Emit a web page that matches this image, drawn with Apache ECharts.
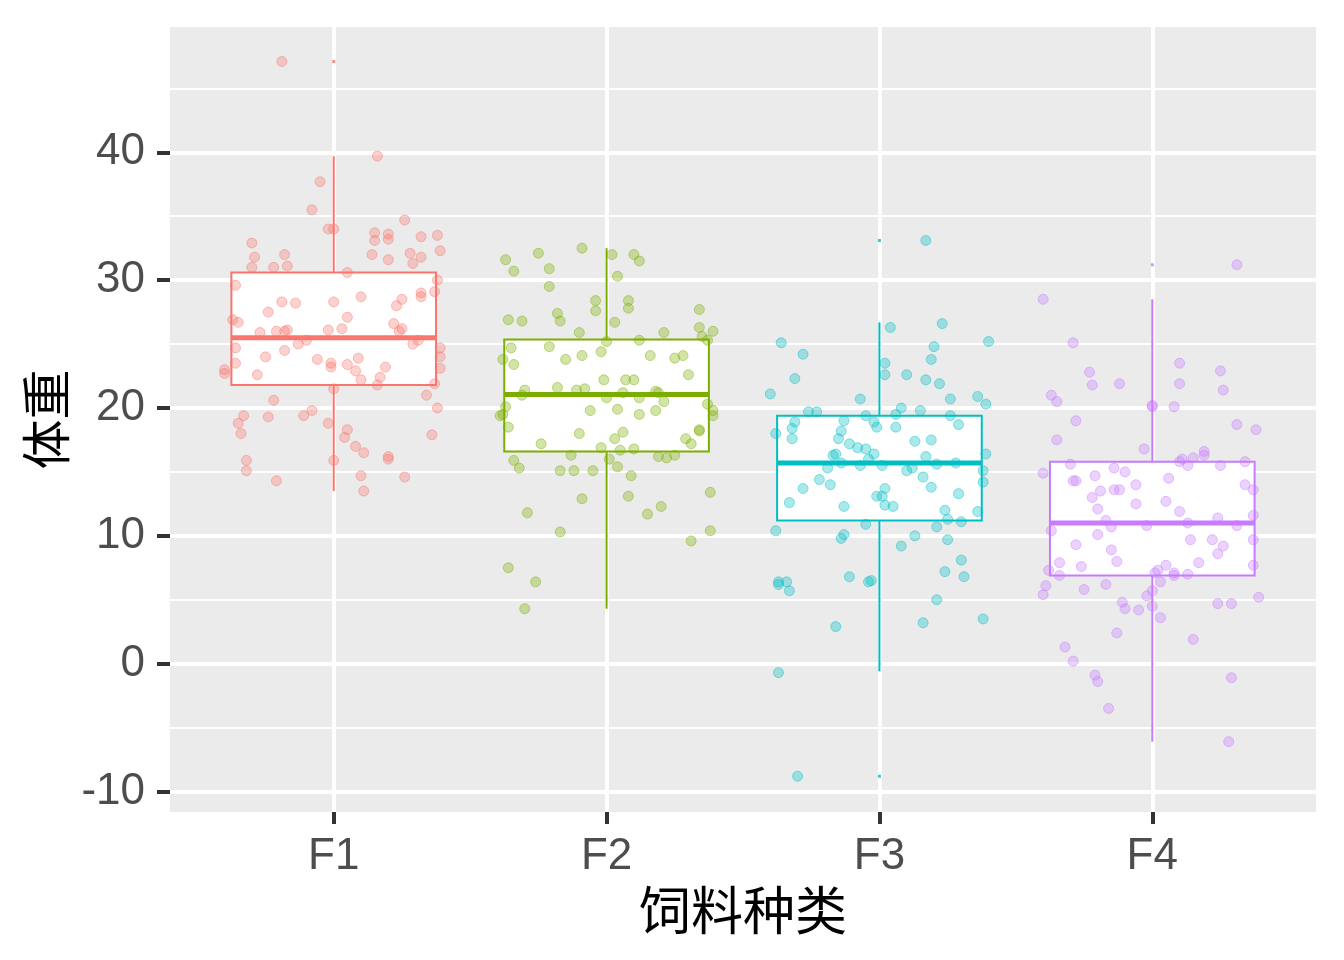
<!DOCTYPE html>
<html>
<head>
<meta charset="utf-8">
<script src="https://cdn.jsdelivr.net/npm/echarts@6/dist/echarts.min.js"></script>
<style>html,body{margin:0;padding:0;background:#fff}#c{width:1344px;height:960px}</style>
</head>
<body>
<div id="c"></div>
<script>
const categories = ['F1', 'F2', 'F3', 'F4'];
const colors = ['#F8766D', '#7CAE00', '#00BFC4', '#C77CFF'];
const yTicks = [-10, 0, 10, 20, 30, 40];
const yMinor = [-5, 5, 15, 25, 35, 45];
// [lower whisker, Q1, median, Q3, upper whisker]
const boxStats = [
  [13.5, 21.8, 25.5, 30.6, 39.7],
  [4.3, 16.6, 21.05, 25.35, 32.5],
  [-0.6, 11.2, 15.7, 19.4, 26.7],
  [-6.1, 6.9, 11.0, 15.8, 28.5]
];
// outliers: [group index (1-based), value]
const outliers = [[1, 47.1], [3, 33.1], [3, -8.8], [4, 31.2]];
// jittered points: [horizontal jitter, value]
const f1Points = [[-0.19,47.1],[0.16,39.7],[-0.05,37.7],[-0.08,35.5],[-0.02,34.0],[0.0,34.0],[0.26,34.7],[0.15,33.7],[0.2,33.6],[0.15,33.1],[0.2,33.2],[0.32,33.4],[0.38,33.5],[0.39,32.3],[0.28,32.1],[0.32,31.8],[0.29,31.3],[0.14,32.0],[0.2,31.6],[-0.3,32.9],[-0.29,31.8],[-0.18,32.0],[-0.3,31.0],[-0.22,31.0],[-0.17,31.1],[0.05,30.6],
[0.38,30.0],[-0.36,29.6],[0.37,29.1],[0.32,29.0],[0.32,28.7],[-0.19,28.3],[-0.14,28.2],[0.0,28.3],[0.1,28.7],[0.25,28.5],[0.23,28.0],[-0.24,27.5],[0.05,27.1],[-0.37,26.9],[-0.35,26.7],[0.22,26.6],[0.25,26.2],[0.24,26.0],[-0.27,25.9],[-0.21,26.0],[-0.17,26.1],[-0.18,26.0],[-0.02,26.1],[0.03,26.2],[-0.1,25.3],[-0.13,25.0],[0.29,25.0],[0.31,25.3],[-0.36,24.7],[0.39,24.7],[0.39,24.0],[-0.25,24.0],[-0.18,24.5],[-0.06,23.8],[0.09,23.9],[-0.01,23.5],[-0.01,23.2],[0.05,23.4],[-0.36,23.5],[-0.4,23.0],[-0.4,22.7],[0.39,23.1],[0.19,23.2],[0.08,22.9],[0.1,22.2],[0.17,22.4],[0.16,21.8],[-0.28,22.6],[0.37,21.9],[0.0,21.5],[0.34,21.0],[0.38,20.0],[-0.22,20.6],[-0.33,19.4],[-0.35,18.8],[-0.34,18.0],[-0.24,19.3],[-0.11,19.4],[-0.08,19.8],[-0.02,18.8],[0.05,18.3],[0.04,17.7],[0.36,17.9],[0.08,17.0],[0.11,16.5],[0.2,16.2],[0.2,16.0],[-0.32,15.9],[-0.32,15.1],[0.0,15.9],[-0.21,14.3],[0.1,14.7],[0.26,14.6],[0.11,13.5]];
const f2Points = [[-0.37,31.6],[-0.25,32.1],[-0.34,30.7],[-0.21,30.9],[-0.09,32.5],[0.02,32.0],[0.1,32.0],[0.12,31.5],[0.04,30.3],[-0.21,29.5],[-0.04,28.4],[-0.04,27.6],[0.08,28.4],[0.08,27.8],[-0.18,27.4],[-0.17,26.8],[-0.36,26.9],[-0.31,26.8],[0.03,26.7],[0.34,27.7],[0.34,26.3],[0.39,26.0],[0.35,25.6],[0.37,25.3],[-0.1,25.9],[0.21,25.9],[0.0,25.2],[0.12,25.3],[-0.35,24.7],[-0.21,24.8],[-0.38,23.8],[-0.34,23.4],[-0.15,23.8],[-0.09,24.1],[-0.02,24.4],[0.16,24.1],[0.25,23.9],[0.28,24.1],[0.3,22.6],[-0.01,22.2],[0.07,22.2],[0.1,22.2],[-0.3,21.4],[-0.31,21.0],[-0.18,21.6],[-0.11,21.4],[-0.08,21.5],[0.06,21.2],[0.18,21.3],[0.19,21.2],[0.0,20.8],[0.12,20.8],[0.21,20.5],[-0.37,20.1],[-0.39,19.4],[-0.38,19.5],[-0.06,19.8],[0.04,19.9],[0.12,19.5],[0.18,19.8],[0.37,20.3],[0.39,19.8],[0.39,19.4],[-0.36,18.5],[0.34,18.3],
[-0.1,18.0],[0.06,18.1],[0.03,17.6],[0.34,18.2],[0.29,17.6],[0.31,17.2],[-0.24,17.2],[-0.02,16.9],[0.05,16.7],[0.1,16.8],[-0.13,16.3],[-0.34,15.9],[-0.32,15.3],[0.01,16.0],[0.04,15.4],[0.19,16.2],[0.22,16.1],[0.25,16.3],[-0.17,15.1],[-0.12,15.1],[-0.05,15.1],[0.09,14.7],[-0.09,12.9],[0.08,13.1],[0.38,13.4],[-0.29,11.8],[0.15,11.7],[0.2,12.3],[-0.17,10.3],[0.38,10.4],[0.31,9.6],[-0.36,7.5],[-0.26,6.4],[-0.3,4.3]];
const f3Points = [[0.17,33.1],[0.04,26.3],[0.23,26.6],[0.4,25.2],[-0.36,25.1],[-0.28,24.2],[0.2,24.8],[0.19,23.8],[0.02,23.5],[0.02,22.6],[0.1,22.6],[-0.31,22.3],[0.17,22.2],[0.22,21.9],[-0.4,21.1],[-0.07,20.7],[0.26,20.7],[0.36,20.9],[0.39,20.3],[-0.26,19.7],[-0.23,19.7],[-0.05,19.4],[0.08,20.0],[0.06,19.5],[0.15,19.8],[0.26,19.4],
[-0.31,18.9],[-0.32,18.4],[-0.13,19.0],[-0.14,18.2],[-0.02,18.9],[-0.01,18.5],[0.06,18.5],[0.29,18.7],[-0.38,18.0],[-0.32,17.6],[-0.15,17.6],[-0.11,17.2],[0.13,17.4],[0.19,17.5],[-0.08,16.9],[-0.05,16.8],[-0.02,16.4],[-0.04,16.0],[-0.17,16.3],[-0.16,16.4],[0.17,16.2],[0.39,16.4],[-0.14,15.7],[-0.19,15.3],[-0.07,15.5],[0.01,15.5],[0.1,15.1],[0.12,15.3],[0.21,15.6],[0.28,15.7],[0.38,15.1],[0.38,14.2],[0.16,14.6],[-0.22,14.4],[-0.18,14.0],[-0.28,13.7],[0.19,13.8],[0.02,13.7],[-0.01,13.1],[0.01,13.1],[0.29,13.3],[-0.33,12.6],[-0.13,12.3],[0.02,12.4],[0.05,12.3],[0.24,12.0],[0.36,11.9],[0.25,11.3],[0.3,11.1],[-0.05,10.9],[0.21,10.7],[-0.38,10.4],[-0.13,10.1],[-0.14,9.8],[0.13,10.0],[0.25,9.7],[0.08,9.2],[0.3,8.1],[0.24,7.2],[0.31,6.8],[-0.11,6.8],[-0.04,6.4],[-0.03,6.5],[-0.37,6.4],[-0.37,6.2],[-0.34,6.4],[-0.33,5.7],[0.21,5.0],[-0.16,2.9],[0.16,3.2],[0.38,3.5],[-0.37,-0.7],[-0.3,-8.8]];
const f4Points = [[0.31,31.2],[-0.4,28.5],[-0.29,25.1],[-0.23,22.8],[-0.22,21.8],[-0.12,21.9],[0.1,23.5],[0.1,21.9],[0.25,22.9],[0.26,21.4],[-0.37,21.0],[-0.35,20.5],[0.0,20.2],[0.0,20.1],[0.08,20.1],[-0.28,19.0],[0.31,18.7],[0.38,18.3],[-0.35,17.5],[-0.03,16.8],[0.19,16.6],[0.19,16.3],[0.15,16.1],[0.11,16.0],[0.1,15.8],[0.13,15.5],[0.34,15.8],[0.25,15.5],[-0.3,15.6],[-0.4,14.9],[-0.14,15.3],[-0.1,15.0],[-0.21,14.7],[-0.29,14.3],[-0.28,14.3],[0.06,14.5],[-0.06,14.0],[-0.19,13.5],[-0.14,13.6],[-0.12,13.6],[0.34,14.0],[0.37,13.6],[-0.22,13.0],[0.05,12.7],[-0.06,12.5],[-0.2,12.1],[0.1,11.9],[-0.17,11.2],[0.24,11.4],[0.37,11.6],[0.13,11.0],[0.31,10.8],[-0.15,10.7],[-0.02,10.8],[-0.37,10.4],[-0.2,10.1],[0.14,9.7],[0.22,9.7],[0.26,9.2],[0.24,8.6],[0.37,9.7],[-0.28,9.3],[-0.15,8.9],[-0.13,8.0],[-0.34,7.9],[-0.26,7.6],[0.17,7.9],[0.05,7.7],[0.37,7.7],[-0.38,7.3],[-0.34,6.9],[0.02,7.3],[0.01,7.1],[0.08,7.1],[0.08,6.9],[0.13,7.0],[0.03,6.4],[-0.39,6.1],[-0.25,5.8],[-0.17,6.2],[-0.4,5.4],[-0.11,4.8],[-0.1,4.3],[-0.05,4.2],[-0.02,5.3],[0.0,5.7],[0.0,4.5],[0.03,3.6],[0.24,4.7],[0.29,4.7],[0.39,5.2],[-0.13,2.4],[0.15,1.9],[-0.32,1.3],[-0.29,0.2],[-0.21,-0.9],[-0.2,-1.4],[0.29,-1.1],[-0.16,-3.5],[0.28,-6.1]];
const allPoints = [f1Points, f2Points, f3Points, f4Points];

const tickFont = 'Liberation Sans, Arial, sans-serif';
const cjkFont = 'Noto Sans CJK SC, sans-serif';
const chart = echarts.init(document.getElementById('c'), null, {renderer: 'canvas'});

function hexA(hex, a) {
  const n = parseInt(hex.slice(1), 16);
  return 'rgba(' + ((n >> 16) & 255) + ',' + ((n >> 8) & 255) + ',' + (n & 255) + ',' + a + ')';
}

const boxData = boxStats.map((s, i) => [i + 1].concat(s));
const halfW = 0.375;

function renderBox(params, api) {
  const x = api.value(0), lo = api.value(1), q1 = api.value(2), med = api.value(3), q3 = api.value(4), hi = api.value(5);
  const c = colors[params.dataIndex];
  const pHi = api.coord([x, hi]), pLo = api.coord([x, lo]);
  const pQ1 = api.coord([x, q1]), pQ3 = api.coord([x, q3]);
  const a = api.coord([x - halfW, q3]), b = api.coord([x + halfW, q1]);
  const mL = api.coord([x - halfW, med]), mR = api.coord([x + halfW, med]);
  return {
    type: 'group',
    children: [
      {type: 'line', shape: {x1: pHi[0], y1: pHi[1], x2: pQ3[0], y2: pQ3[1]}, style: {stroke: c, lineWidth: 2}},
      {type: 'line', shape: {x1: pLo[0], y1: pLo[1], x2: pQ1[0], y2: pQ1[1]}, style: {stroke: c, lineWidth: 2}},
      {type: 'rect', shape: {x: a[0], y: a[1], width: b[0] - a[0], height: b[1] - a[1]}, style: {fill: '#ffffff', stroke: c, lineWidth: 2}},
      {type: 'line', shape: {x1: mL[0], y1: mL[1], x2: mR[0], y2: mR[1]}, style: {stroke: c, lineWidth: 5}}
    ]
  };
}

const series = [
  {
    type: 'custom', name: 'box', renderItem: renderBox, data: boxData, z: 2,
    encode: {x: 0, y: [1, 2, 3, 4, 5]}, silent: true
  },
  {
    type: 'scatter', name: 'outliers', z: 3, symbol: 'rect', symbolSize: 3,
    data: outliers.map(o => ({value: o, itemStyle: {color: colors[o[0] - 1]}})),
    silent: true
  }
];
allPoints.forEach((pts, gi) => {
  series.push({
    type: 'scatter', name: categories[gi], z: 4, symbolSize: 10,
    data: pts.map(p => [gi + 1 + p[0], p[1]]),
    itemStyle: {color: hexA(colors[gi], 0.42), borderColor: hexA(colors[gi], 0.55), borderWidth: 1},
    silent: true
  });
});

chart.setOption({
  animation: false,
  backgroundColor: '#ffffff',
  grid: {left: 170, right: 28, top: 27, bottom: 148, show: true, backgroundColor: '#EBEBEB', borderWidth: 0},
  xAxis: {
    type: 'value', min: 0.4, max: 4.6,
    axisLine: {show: false, onZero: false},
    axisTick: {show: true, customValues: [1, 2, 3, 4], length: 12, lineStyle: {color: '#333333', width: 4}},
    axisLabel: {customValues: [1, 2, 3, 4], formatter: v => categories[Math.round(v) - 1], fontSize: 44, color: '#4D4D4D', fontFamily: tickFont, margin: 23},
    splitLine: {show: true, lineStyle: {color: '#ffffff', width: 4}},
    name: '饲料种类', nameLocation: 'middle', nameGap: 70,
    nameTextStyle: {fontSize: 52, color: '#000000', fontFamily: cjkFont}
  },
  yAxis: [
    {
      type: 'value', min: -11.6, max: 49.8,
      axisLine: {show: false, onZero: false},
      axisTick: {show: true, customValues: yTicks, length: 13, lineStyle: {color: '#333333', width: 4}},
      axisLabel: {customValues: yTicks, fontSize: 44, color: '#4D4D4D', fontFamily: tickFont, margin: 25},
      splitLine: {show: true, lineStyle: {color: '#ffffff', width: 4}},
      name: '体重', nameLocation: 'middle', nameGap: 95, nameRotate: 90,
      nameTextStyle: {fontSize: 50, color: '#000000', fontFamily: cjkFont}
    },
    {
      type: 'value', min: -11.6, max: 49.8, position: 'left',
      axisLine: {show: false, onZero: false},
      axisTick: {show: false, customValues: yMinor},
      axisLabel: {show: false, customValues: yMinor},
      splitLine: {show: true, lineStyle: {color: '#ffffff', width: 2}}
    }
  ],
  series: series
});
</script>
</body>
</html>
